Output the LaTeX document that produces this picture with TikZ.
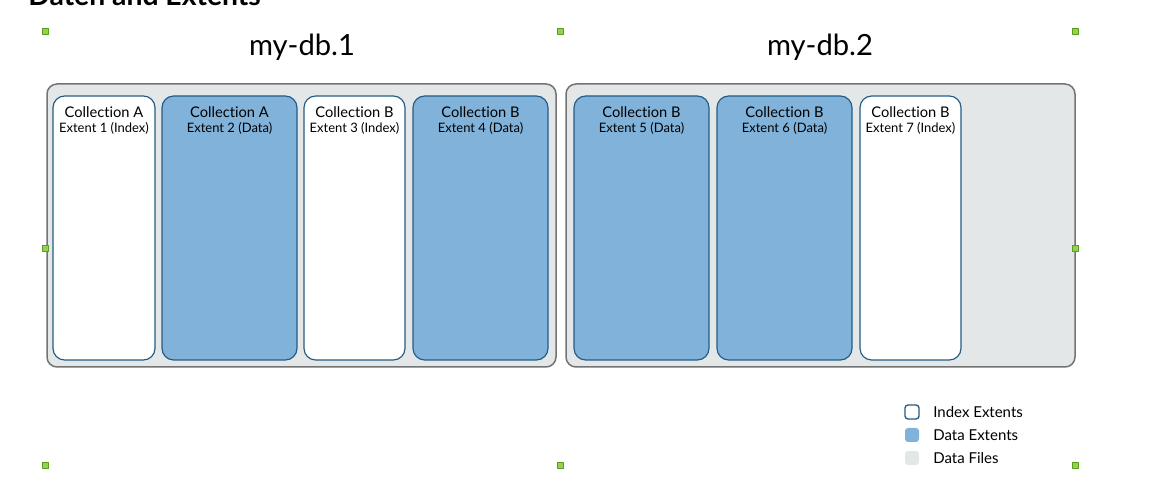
\documentclass[tikz,border=0pt]{standalone}
\usepackage{fontspec}
\setmainfont{Lato}[Ligatures=NoCommon]
\usetikzlibrary{positioning}
\definecolor{dataBlue}{RGB}{128,178,218}
\definecolor{extLine}{RGB}{35,92,135}
\definecolor{fileGray}{RGB}{228,231,232}
\definecolor{fileLine}{RGB}{115,115,115}
\definecolor{handleFill}{RGB}{152,206,84}
\definecolor{handleLine}{RGB}{88,160,28}

\begin{document}
\begin{tikzpicture}[line cap=round,line join=round,x=0.6pt,y=-0.6pt,
  dbfile/.style={draw=fileLine,fill=fileGray,line width=0.9pt,rounded corners=6pt},
  idxext/.style={draw=extLine,fill=white,line width=0.7pt,rounded corners=7pt},
  dataext/.style={idxext,fill=dataBlue},
  extlbl/.style={anchor=north,align=center,inner sep=0pt,font=\fontsize{8.8}{9.2}\selectfont},
  dblbl/.style={anchor=base,inner sep=0pt,font=\fontsize{17.5}{20}\selectfont},
  keybox/.style={minimum size=8.4pt,inner sep=0pt,rounded corners=1.8pt,line width=0.8pt},
  keylbl/.style={anchor=west,inner sep=0pt,font=\fontsize{9}{10}\selectfont},
  handle/.style={draw=handleLine,fill=handleFill,minimum size=3.6pt,inner sep=0pt,line width=0.5pt}]
\useasboundingbox (0,0) rectangle (1150,481);
\clip (0,0) rectangle (1150,481);
%
\node[anchor=base west,inner sep=0pt,font=\bfseries\fontsize{17}{20}\selectfont] (title) at (28,6) {Daten and Extents};
%
% data files
\draw[dbfile] (47,84) rectangle (556,367);
\draw[dbfile] (566,84) rectangle (1075,367);
\node[dblbl] (db1) at (302,56) {my-db.1};
\node[dblbl] (db2) at (820,56) {my-db.2};
%
% extents of my-db.1
\draw[idxext]  (53,96) rectangle (155,360);
\draw[dataext] (162,96) rectangle (297,360);
\draw[idxext]  (304,96) rectangle (405,360);
\draw[dataext] (413,96) rectangle (548,360);
\node[extlbl] (e1) at (104,106) {Collection A\\{\fontsize{7.8}{9.2}\selectfont Extent 1 (Index)}};
\node[extlbl] (e2) at (229.5,106) {Collection A\\{\fontsize{7.8}{9.2}\selectfont Extent 2 (Data)}};
\node[extlbl] (e3) at (354.5,106) {Collection B\\{\fontsize{7.8}{9.2}\selectfont Extent 3 (Index)}};
\node[extlbl] (e4) at (480.5,106) {Collection B\\{\fontsize{7.8}{9.2}\selectfont Extent 4 (Data)}};
%
% extents of my-db.2
\draw[dataext] (574,96) rectangle (709,360);
\draw[dataext] (717,96) rectangle (852,360);
\draw[idxext]  (860,96) rectangle (961,360);
\node[extlbl] (e5) at (641.5,106) {Collection B\\{\fontsize{7.8}{9.2}\selectfont Extent 5 (Data)}};
\node[extlbl] (e6) at (784.5,106) {Collection B\\{\fontsize{7.8}{9.2}\selectfont Extent 6 (Data)}};
\node[extlbl] (e7) at (910.5,106) {Collection B\\{\fontsize{7.8}{9.2}\selectfont Extent 7 (Index)}};
%
% legend
\node[keybox,draw=extLine,fill=white] (kidx) at (912,412) {};
\node[keybox,fill=dataBlue] (kdata) at (912,435) {};
\node[keybox,fill=fileGray] (kfile) at (912,458) {};
\node[keylbl] (lidx) at (933,412) {Index Extents};
\node[keylbl] (ldata) at (933,435) {Data Extents};
\node[keylbl] (lfile) at (933,458) {Data Files};
%
% selection handles
\node[handle] (h1) at (45,31) {};
\node[handle] (h2) at (560,31) {};
\node[handle] (h3) at (1075,31) {};
\node[handle] (h4) at (45,248) {};
\node[handle] (h5) at (1075,248) {};
\node[handle] (h6) at (45,465) {};
\node[handle] (h7) at (560,465) {};
\node[handle] (h8) at (1075,465) {};
\end{tikzpicture}
\end{document}
